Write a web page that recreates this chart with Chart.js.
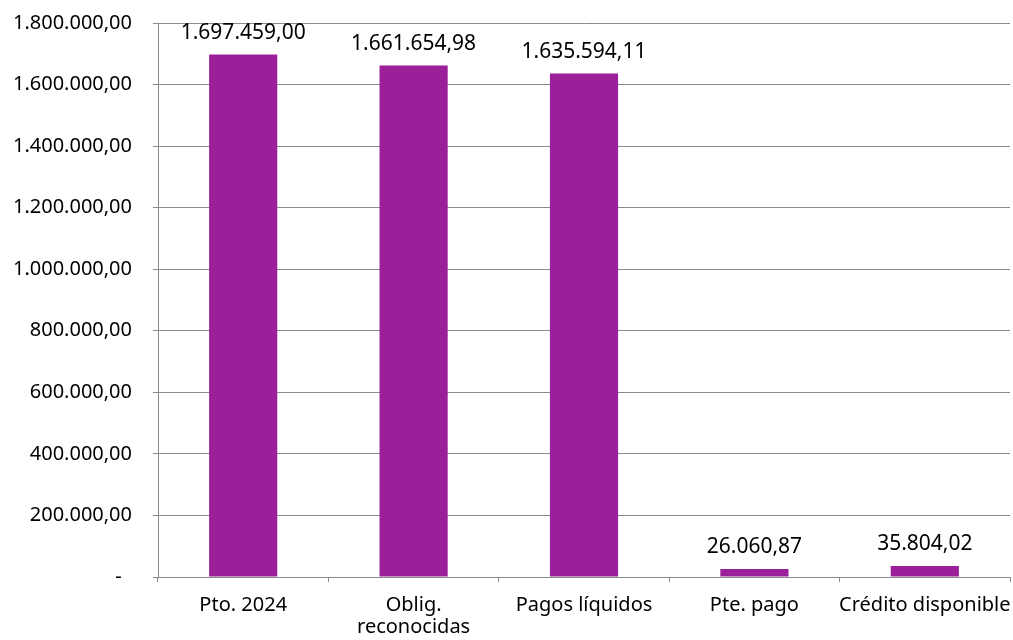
<!DOCTYPE html>
<html>
<head>
<meta charset="utf-8">
<script src="https://cdn.jsdelivr.net/npm/chart.js@4"></script>
<style>
  body{margin:0;background:#fff;}
</style>
</head>
<body>
<canvas id="c" width="1013" height="640"></canvas>
<script>
/* ========= DATA ========= */
const categories = ['Pto. 2024', ['Oblig.', 'reconocidas'], 'Pagos líquidos', 'Pte. pago', 'Crédito disponible'];
const values = [1697459.00, 1661654.98, 1635594.11, 26060.87, 35804.02];
const yMax = 1800000;
const yStep = 200000;

/* ========= HELPERS ========= */
const fmt = v => {
  const [i, d] = v.toFixed(2).split('.');
  return i.replace(/\B(?=(\d{3})+(?!\d))/g, '.') + ',' + d;
};
const FONT = {family: '"Noto Sans", sans-serif', size: 20};
const GRID = '#8a8a8a';

// value labels above each bar
const valueLabels = {
  id: 'valueLabels',
  afterDatasetsDraw(chart) {
    const ctx = chart.ctx;
    const meta = chart.getDatasetMeta(0);
    ctx.save();
    ctx.font = `21px ${FONT.family}`;
    ctx.fillStyle = '#000';
    ctx.textAlign = 'center';
    ctx.textBaseline = 'alphabetic';
    meta.data.forEach((bar, i) => ctx.fillText(fmt(values[i]), bar.x, bar.y - 16));
    ctx.restore();
  }
};

new Chart(document.getElementById('c'), {
  type: 'bar',
  data: {
    labels: categories,
    datasets: [{data: values, backgroundColor: '#9b1f99', categoryPercentage: 1, barPercentage: 0.4}]
  },
  options: {
    responsive: false,
    animation: false,
    layout: {padding: {top: 23, right: 3, left: 0, bottom: 0}},
    plugins: {legend: {display: false}, tooltip: {enabled: false}},
    scales: {
      x: {
        grid: {drawOnChartArea: false, drawTicks: true, tickLength: 5, color: GRID},
        border: {color: GRID},
        ticks: {color: '#000', font: {...FONT, lineHeight: 1.1}, padding: 12, maxRotation: 0, autoSkip: false},
        afterFit: s => { s.height = 63; s.paddingLeft = 0; s.paddingRight = 0; }
      },
      y: {
        min: 0, max: yMax,
        grid: {color: GRID, tickLength: 5},
        border: {color: GRID},
        ticks: {stepSize: yStep, color: '#000', font: FONT, padding: 21,
                callback: v => v === 0 ? '-  ' : fmt(v)},
        afterFit: s => { s.width = 158; s.paddingTop = 0; s.paddingBottom = 0; }
      }
    }
  },
  plugins: [valueLabels]
});
</script>
</body>
</html>
